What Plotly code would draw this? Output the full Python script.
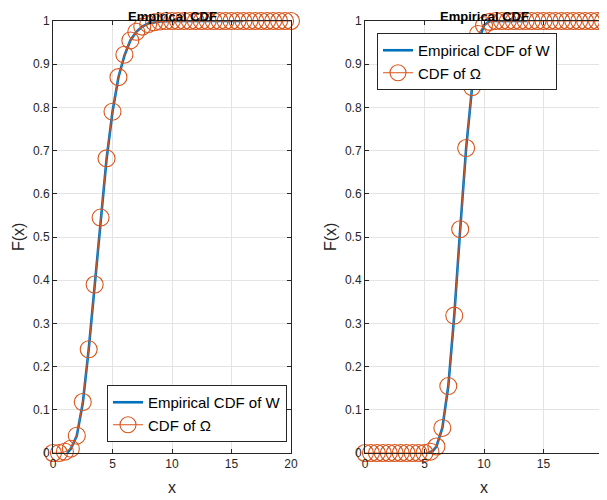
import plotly.graph_objects as go

# ---- data ----
omega_x = [i * 0.5 for i in range(41)]

omega_left = [0, 0, 0.003, 0.01, 0.04, 0.118, 0.24, 0.39, 0.545, 0.682,
              0.79, 0.87, 0.922, 0.955, 0.975, 0.987, 0.993, 0.997, 0.999, 1,
              1, 1, 1, 1, 1, 1, 1, 1, 1, 1,
              1, 1, 1, 1, 1, 1, 1, 1, 1, 1, 1]

omega_right = [0, 0, 0, 0, 0, 0, 0, 0, 0, 0,
               0, 0.003, 0.015, 0.058, 0.155, 0.318, 0.518, 0.706, 0.847, 0.97,
               0.99, 0.998, 1, 1, 1, 1, 1, 1, 1, 1,
               1, 1, 1, 1, 1, 1, 1, 1, 1, 1, 1]

w_left_x = [1.2, 1.5, 2, 2.5, 3, 3.5, 4, 4.5, 5, 5.5, 6, 6.5, 7, 7.5, 8, 9, 10, 12, 16]
w_left_y = [0, 0.01, 0.04, 0.115, 0.24, 0.39, 0.545, 0.68, 0.79, 0.87, 0.92,
            0.955, 0.975, 0.987, 0.994, 0.999, 1, 1, 1]

w_right_x = [5.3, 5.7, 6, 6.5, 7, 7.5, 8, 8.5, 9, 9.5, 10, 10.5, 13.6]
w_right_y = [0, 0.005, 0.015, 0.058, 0.155, 0.318, 0.518, 0.706, 0.847, 0.95, 0.99, 1, 1]

x_ticks = [0, 5, 10, 15, 20]
y_ticks = [0, 0.1, 0.2, 0.3, 0.4, 0.5, 0.6, 0.7, 0.8, 0.9, 1]
y_tick_text = ["0", "0.1", "0.2", "0.3", "0.4", "0.5", "0.6", "0.7", "0.8", "0.9", "1"]

BLUE = "#0072BD"
ORANGE = "#D95319"
FONT = "Liberation Sans, Arial, sans-serif"

# page has an 8px body margin -> figure is 599x492 drawn at (8, 8)
W, H = 599, 492

fig = go.Figure()

def add_panel(xa, ya, wx, wy, oy, legend):
    fig.add_trace(go.Scatter(x=wx, y=wy, mode="lines", name="Empirical CDF of W",
                             line=dict(color=BLUE, width=2.6), xaxis=xa, yaxis=ya,
                             legend=legend, cliponaxis=False))
    fig.add_trace(go.Scatter(x=omega_x, y=oy, mode="lines+markers", name="CDF of Ω",
                             line=dict(color=ORANGE, width=1),
                             marker=dict(symbol="circle-open", size=17, color=ORANGE,
                                         line=dict(width=1.1, color=ORANGE)),
                             xaxis=xa, yaxis=ya, legend=legend, cliponaxis=False))

add_panel("x", "y", w_left_x, w_left_y, omega_left, "legend")
add_panel("x2", "y2", w_right_x, w_right_y, omega_right, "legend2")

axis_common = dict(showline=True, linecolor="#262626", linewidth=1, mirror="ticks",
                   ticks="inside", ticklen=4, tickcolor="#262626", automargin=False,
                   showgrid=True, gridcolor="#e3e3e3", gridwidth=1, zeroline=False,
                   tickfont=dict(family=FONT, size=12, color="#262626"))

def px_x(sx):
    return (sx - 8) / W

def px_y(sy):
    return 1 - (sy - 8) / H

def label(text, sx, sy, size, color="#262626", angle=0):
    return dict(text=text, x=px_x(sx), y=px_y(sy), xref="paper", yref="paper",
                xanchor="center", yanchor="middle", showarrow=False,
                textangle=angle, font=dict(size=size, color=color))

def title(text, sx):
    return dict(text=text, x=px_x(sx), y=1, xref="paper", yref="paper",
                xanchor="center", yanchor="top", showarrow=False, borderpad=0,
                font=dict(size=13, color="#000000"))

y0, y1 = px_y(453), px_y(21)
fig.update_layout(
    width=W, height=H,
    margin=dict(l=0, r=0, t=0, b=0),
    paper_bgcolor="white", plot_bgcolor="white",
    font=dict(family=FONT, color="#262626"),
    xaxis=dict(domain=[px_x(53), px_x(291)], range=[0, 20], tickvals=x_ticks, **axis_common),
    yaxis=dict(domain=[y0, y1], range=[0, 1], tickvals=y_ticks, ticktext=y_tick_text,
               anchor="x", **axis_common),
    xaxis2=dict(domain=[px_x(365), px_x(603)], range=[0, 20], tickvals=x_ticks, anchor="y2",
                **axis_common),
    yaxis2=dict(domain=[y0, y1], range=[0, 1], tickvals=y_ticks, ticktext=y_tick_text,
                anchor="x2", **axis_common),
    legend=dict(x=px_x(287), y=px_y(442), xanchor="right", yanchor="bottom",
                bgcolor="white", bordercolor="#262626", borderwidth=1,
                font=dict(size=15, color="#000000"), tracegroupgap=0,
                itemwidth=30),
    legend2=dict(x=px_x(377), y=px_y(33), xanchor="left", yanchor="top",
                 bgcolor="white", bordercolor="#262626", borderwidth=1,
                 font=dict(size=15, color="#000000"), tracegroupgap=0,
                 itemwidth=30),
    annotations=[
        title("<b>Empirical CDF</b>", 172),
        title("<b>Empirical CDF</b>", 484),
        label("F(x)", 18, 237, 16, angle=-90),
        label("F(x)", 330, 237, 16, angle=-90),
        label("x", 172, 487, 16),
        label("x", 484, 487, 16),
    ],
)

fig.write_html("out.html")
